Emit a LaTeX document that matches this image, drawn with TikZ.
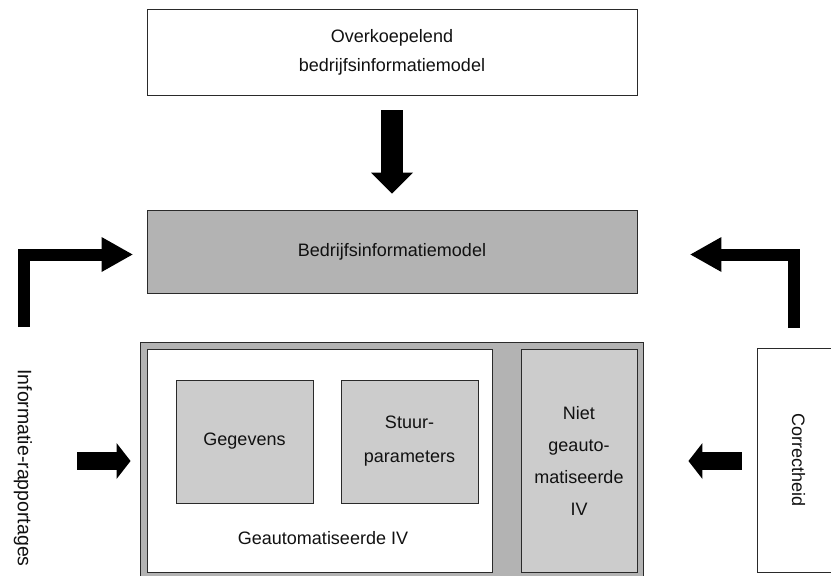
\documentclass[tikz,border=0pt]{standalone}
\usepackage{fontspec}
\setmainfont{Liberation Sans}
\usetikzlibrary{arrows.meta}
\definecolor{edge}{HTML}{2A2A2A}
\definecolor{darkfill}{HTML}{B3B3B3}
\definecolor{lightfill}{HTML}{CCCCCC}
\definecolor{ink}{HTML}{111111}
\begin{document}
\begin{tikzpicture}[x=1pt,y=-1pt,
  every node/.style={text=ink,font=\fontsize{18}{29}\selectfont},
  box/.style={draw=edge,line width=0.9pt,inner sep=0pt,align=center},
  bigarrow/.style={line width=22pt,-{Triangle[width=42pt,length=21pt,line width=0pt]}},
  bentarrow/.style={line width=12pt,line join=miter,-{Triangle[width=35pt,length=31pt,line width=0pt]}},
  smallarrow/.style={line width=18pt,-{Triangle[width=36pt,length=14pt,line width=0pt]}}]
\useasboundingbox (0,0) rectangle (831,576);
\clip (0,0) rectangle (831,576);

% upper model boxes
\node[box,fill=white,minimum width=490pt,minimum height=86pt] (top) at (392,52)
  {Overkoepelend\\bedrijfsinformatiemodel};
\node[box,fill=darkfill,minimum width=490pt,minimum height=83pt] (bim) at (392,251.5)
  {Bedrijfsinformatiemodel};

% information system container
\node[box,fill=darkfill,minimum width=503pt,minimum height=235pt] (iv) at (391.5,459.5) {};
\node[box,fill=white,minimum width=345pt,minimum height=223pt] (auto) at (319.5,460.5) {};
\node[box,fill=lightfill,minimum width=116pt,minimum height=223pt,
  font=\fontsize{18}{32}\selectfont] (niet) at (579,460.5)
  {Niet\\geauto-\\matiseerde\\IV};
\node[box,fill=lightfill,minimum width=137pt,minimum height=123pt] (geg) at (244.5,441.5)
  {Gegevens};
\node[box,fill=lightfill,minimum width=137pt,minimum height=123pt,
  font=\fontsize{18}{34}\selectfont] (stuur) at (409.5,441.5)
  {Stuur-\\parameters};
\node (autolabel) at (323,538) {Geautomatiseerde IV};

% side elements
\node[box,fill=white,minimum width=83pt,minimum height=224pt,
  label={[rotate=-90,text=ink]center:Correctheid}] (corr) at (798.5,460) {};
\node[rotate=-90,font=\fontsize{19.5}{24}\selectfont] (ir) at (23,468) {Informatie-rapportages};

\coordinate (irUp) at (23.5,327);
\coordinate (irIn) at (77,461);
\coordinate (corrUp) at (793.5,328);

% block arrows
\draw[bigarrow,shorten <=15pt,shorten >=16pt] (top.south) -- (bim.north);
\draw[bentarrow,shorten >=14pt] (irUp) |- ([yshift=-3pt]bim.west);
\draw[bentarrow,shorten >=53pt] (corrUp) |- ([yshift=-3pt]bim.east);
\draw[smallarrow,shorten >=9pt] (irIn) -- (irIn -| iv.west);
\draw[smallarrow,shorten <=15pt,shorten >=45pt] (corr.west |- irIn) -- (irIn -| iv.east);
\end{tikzpicture}
\end{document}
